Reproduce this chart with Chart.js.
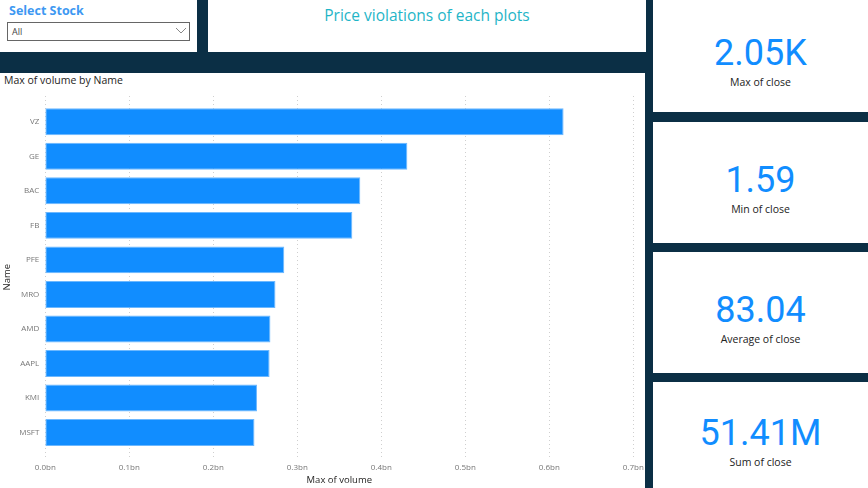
<!DOCTYPE html>
<html>
<head>
<meta charset="utf-8">
<script src="https://cdn.jsdelivr.net/npm/chart.js@4.4.1/dist/chart.umd.min.js"></script>
<style>
  html,body{margin:0;padding:0;}
  body{width:868px;height:488px;background:#0b2f45;position:relative;overflow:hidden;font-family:"Open Sans",sans-serif;}
  .panel{position:absolute;background:#fff;}
  .t{position:absolute;white-space:nowrap;}
  .num{position:absolute;left:653px;width:215px;text-align:center;font-family:Roboto,sans-serif;font-size:36px;color:#118dff;height:40px;line-height:40px;}
  .lab{position:absolute;left:653px;width:215px;text-align:center;font-family:"Open Sans",sans-serif;font-size:10.5px;color:#222;height:14px;line-height:14px;}
</style>
</head>
<body>
<!-- slicer -->
<div class="panel" style="left:0;top:0;width:197px;height:52px;"></div>
<div class="t" style="left:9px;top:2px;font-family:'Open Sans',sans-serif;font-weight:700;font-size:12.5px;color:#3d98f2;">Select Stock</div>
<div style="position:absolute;left:7px;top:22px;width:181px;height:17px;border:1px solid #666;background:#fff;"></div>
<div class="t" style="left:12px;top:25px;font-size:9px;color:#444;">All</div>
<svg style="position:absolute;left:175px;top:27px" width="12" height="8"><polyline points="1,1 6,6 11,1" fill="none" stroke="#888" stroke-width="1"/></svg>
<!-- title panel -->
<div class="panel" style="left:208px;top:0;width:438px;height:52px;"></div>
<div class="t" style="left:208px;width:438px;top:4px;text-align:center;font-family:'Open Sans',sans-serif;font-size:15.5px;color:#1fb5c7;">Price violations of each plots</div>
<!-- chart panel -->
<div class="panel" style="left:0;top:73px;width:645px;height:415px;"></div>
<div class="t" style="left:4px;top:73px;font-size:10.5px;color:#252423;">Max of volume by Name</div>
<canvas id="c" width="645" height="415" style="position:absolute;left:0;top:73px;"></canvas>
<!-- cards -->
<div class="panel" style="left:653px;top:0;width:215px;height:112px;"></div>
<div class="panel" style="left:653px;top:122px;width:215px;height:121px;"></div>
<div class="panel" style="left:653px;top:252px;width:215px;height:121px;"></div>
<div class="panel" style="left:653px;top:382px;width:215px;height:106px;"></div>
<div id="cards"></div>

<script>
// ---- data ----
const names = ['VZ','GE','BAC','FB','PFE','MRO','AMD','AAPL','KMI','MSFT'];
const maxVolumeBn = [0.617,0.431,0.375,0.3655,0.2845,0.274,0.268,0.267,0.252,0.249];
const xTickMax = 0.7;
const xTickStep = 0.1;
const cardValues = ['2.05K','1.59','83.04','51.41M'];
const cardLabels = ['Max of close','Min of close','Average of close','Sum of close'];
const cardNumCenters = [53,180,310,433];
const cardLabCenters = [82,209,339,462];

// ---- cards ----
const cardsEl = document.getElementById('cards');
cardValues.forEach((v,i)=>{
  const n=document.createElement('div'); n.className='num'; n.textContent=v;
  n.style.top=(cardNumCenters[i]-20)+'px'; cardsEl.appendChild(n);
  const l=document.createElement('div'); l.className='lab'; l.textContent=cardLabels[i];
  l.style.top=(cardLabCenters[i]-7)+'px'; cardsEl.appendChild(l);
});

// ---- chart ----
const gridPlugin = {
  id:'dottedGrid',
  beforeDatasetsDraw(chart){
    const ctx=chart.ctx, xs=chart.scales.x;
    ctx.save();
    ctx.strokeStyle='#cfcfcf'; ctx.lineWidth=1; ctx.setLineDash([1,3]);
    xs.ticks.forEach(t=>{
      const x=Math.round(xs.getPixelForValue(t.value))+0.5;
      ctx.beginPath(); ctx.moveTo(x,23); ctx.lineTo(x,386); ctx.stroke();
    });
    ctx.restore();
  }
};
new Chart(document.getElementById('c'),{
  type:'bar',
  data:{labels:names,datasets:[{data:maxVolumeBn,backgroundColor:'#118dff',borderColor:'#6cb8ff',borderWidth:1,borderSkipped:false,categoryPercentage:1,barPercentage:0.78}]},
  options:{
    indexAxis:'y',responsive:false,animation:false,devicePixelRatio:1,
    layout:{padding:{left:0,top:31.5,right:11.7,bottom:0}},
    plugins:{legend:{display:false},tooltip:{enabled:false}},
    scales:{
      x:{min:0,max:xTickMax,border:{display:false},grid:{display:false,drawTicks:false},
         ticks:{stepSize:xTickStep,padding:13,color:'#777',font:{family:'Open Sans',size:8},callback:v=>v.toFixed(1)+'bn',maxRotation:0},
         title:{display:true,text:'Max of volume',color:'#252423',font:{family:'Open Sans',size:9.5},padding:{top:0,bottom:2}},
         afterFit(s){s.height=38.2;s.paddingRight=0;s.paddingLeft=0;}},
      y:{border:{display:false},grid:{display:false,drawTicks:false},
         ticks:{padding:6,color:'#777',font:{family:'Open Sans',size:8}},
         title:{display:true,text:'Name',color:'#252423',font:{family:'Open Sans',size:9.5},padding:{top:2,bottom:0}},
         afterFit(s){s.width=45.3;s.paddingTop=0;s.paddingBottom=0;}}
    }
  },
  plugins:[gridPlugin]
});
</script>
</body>
</html>
